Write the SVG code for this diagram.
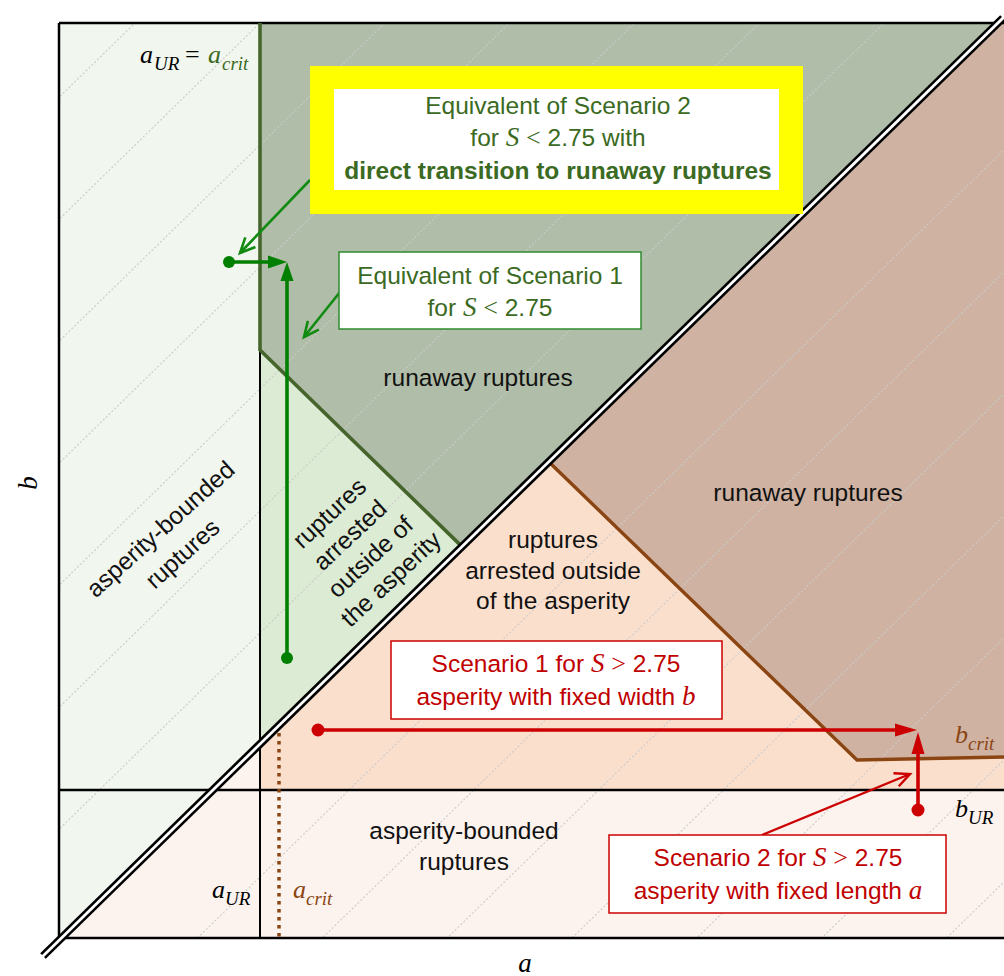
<svg xmlns="http://www.w3.org/2000/svg" width="1004" height="976" viewBox="0 0 1004 976">
<style>
.t{font-family:"Liberation Sans",Arial,sans-serif;font-size:24.5px;fill:#111}
.tc{text-anchor:middle}
.g{fill:#3b6a22}
.r{fill:#c00000}
.m{font-family:"Liberation Serif","Times New Roman",serif;font-style:italic;font-size:27px}
.op{font-family:"Liberation Serif","Times New Roman",serif;font-size:26px}
.mv{font-family:"Liberation Serif","Times New Roman",serif;font-style:italic;font-size:27px}
.sub{font-size:19px}
.hatch{stroke:#cbcbcb;stroke-width:1.1;stroke-dasharray:2 2;fill:none}
.frame{stroke:#000;stroke-width:2.5;fill:none}
.gline{stroke:#007f00;stroke-width:3.6;fill:none}
.gthin{stroke:#118a11;stroke-width:2.6;fill:none}
.rline{stroke:#cc0000;stroke-width:3.6;fill:none}
.rthin{stroke:#cc0000;stroke-width:2.4;fill:none}
</style>
<defs>
<clipPath id="fr"><rect x="59" y="23" width="945" height="915"/></clipPath>
<marker id="gh" markerUnits="userSpaceOnUse" markerWidth="22" markerHeight="16" refX="9" refY="6.5" orient="auto" overflow="visible"><path d="M0,0 L19,6.5 L0,13 z" fill="#007f00"/></marker>
<marker id="rh" markerUnits="userSpaceOnUse" markerWidth="24" markerHeight="16" refX="10" refY="6.5" orient="auto" overflow="visible"><path d="M0,0 L22,6.5 L0,13 z" fill="#cc0000"/></marker>
<marker id="go" markerUnits="userSpaceOnUse" markerWidth="18" markerHeight="16" refX="15" refY="7" orient="auto" overflow="visible"><path d="M0,0 L15,7 L0,14" fill="none" stroke="#118a11" stroke-width="2.6"/></marker>
<marker id="ro" markerUnits="userSpaceOnUse" markerWidth="18" markerHeight="16" refX="15" refY="7" orient="auto" overflow="visible"><path d="M0,0 L15,7 L0,14" fill="none" stroke="#cc0000" stroke-width="2.4"/></marker>
</defs>
<rect width="1004" height="976" fill="#fff"/>

<g id="regions">
<polygon id="left-strip" points="59,23 260,23 260,744 61,938 59,938" fill="#f1f6ee"/>
<polygon id="bottom-strip" points="61,938 260,744 260,790 1004,790 1004,938" fill="#fcf3ee"/>
<polygon id="peach" points="260,744 549,462 857,760 1004,757 1004,790 260,790" fill="#fbdfcd"/>
<polygon id="brown" points="549,462 998,23 1004,23 1004,757 857,760" fill="#cfb2a2"/>
<polygon id="darkgreen" points="260,23 998,23 462,546.6 260,350" fill="#b0bda8"/>
<polygon id="lightgreen" points="260,350 462,546.6 260,744" fill="#dcebd3"/>
</g>

<g id="hatching" clip-path="url(#fr)">
<path class="hatch" d="M0,155 L1010,-832 M0,277 L1010,-710 M0,399 L1010,-588 M0,521 L1010,-466 M0,643 L1010,-344 M0,765 L1010,-222 M0,887 L1010,-100 M0,1131 L1010,144 M0,1253 L1010,266 M0,1375 L1010,388 M0,1497 L1010,510 M0,1619 L1010,632 M0,1741 L1010,754 M0,1863 L1010,876"/>
</g>

<g id="boundaries">
<path d="M59,23 H1004 M59,23 V938 H1004" class="frame"/>
<line x1="59" y1="790" x2="1004" y2="790" stroke="#000" stroke-width="2.5"/>
<line x1="260" y1="350" x2="260" y2="938" stroke="#000" stroke-width="2"/>
<polyline points="260,23 260,350 462,546.6" fill="none" stroke="#46652c" stroke-width="3.6"/>
<polyline points="549,462 857,760 1004,757" fill="none" stroke="#8a4512" stroke-width="3.4"/>
<line x1="279" y1="733" x2="279" y2="938" stroke="#8a4512" stroke-width="3.5" stroke-dasharray="3.5 4.5"/>
<line x1="43" y1="956" x2="1003" y2="18" stroke="#000" stroke-width="8"/>
<line x1="40" y1="959" x2="1006" y2="15" stroke="#fff" stroke-width="2.8"/>
</g>

<g id="axis-labels">
<text class="mv" x="525" y="972" text-anchor="middle">a</text>
<text class="mv" transform="translate(37,483) rotate(-90)" text-anchor="middle">b</text>
<text class="mv" x="140" y="63" style="font-size:26px">a<tspan class="sub" x="154" y="70">UR</tspan><tspan style="font-style:normal" x="185" y="63">=</tspan><tspan fill="#3b6a22" x="208" y="63">a</tspan><tspan class="sub" fill="#3b6a22" x="222" y="70">crit</tspan></text>
<text class="mv" x="212" y="898" style="font-size:26px">a<tspan class="sub" x="225" y="905">UR</tspan></text>
<text class="mv" x="293" y="898" style="font-size:26px" fill="#8a4512">a<tspan class="sub" x="306" y="905">crit</tspan></text>
<text class="mv" x="955" y="743" style="font-size:26px" fill="#8a4512">b<tspan class="sub" x="968" y="750">crit</tspan></text>
<text class="mv" x="955" y="817" style="font-size:26px">b<tspan class="sub" x="968" y="824">UR</tspan></text>
</g>

<g id="region-labels">
<text class="t tc" x="478" y="386">runaway ruptures</text>
<text class="t tc" x="808" y="501">runaway ruptures</text>
<text class="t tc" x="553" y="548">ruptures</text>
<text class="t tc" x="553" y="579">arrested outside</text>
<text class="t tc" x="553" y="609">of the asperity</text>
<text class="t tc" x="464" y="839">asperity-bounded</text>
<text class="t tc" x="464" y="870">ruptures</text>
<g transform="translate(172,542) rotate(-42)">
<text class="t tc" x="0" y="-9">asperity-bounded</text>
<text class="t tc" x="0" y="24">ruptures</text>
</g>
<g transform="translate(361,547) rotate(-43)">
<text class="t tc" x="0" y="-38">ruptures</text>
<text class="t tc" x="0" y="-8">arrested</text>
<text class="t tc" x="0" y="22">outside of</text>
<text class="t tc" x="0" y="52">the asperity</text>
</g>
</g>

<g id="connectors">
<line class="gthin" x1="310" y1="180" x2="240" y2="253" marker-end="url(#go)"/>
<line class="gthin" x1="340" y1="292" x2="304" y2="337" marker-end="url(#go)"/>
<line class="gline" x1="229" y1="262" x2="277" y2="262" marker-end="url(#gh)"/>
<line class="gline" x1="287" y1="658" x2="287" y2="272" marker-end="url(#gh)"/>
<circle cx="229" cy="262" r="6" fill="#007f00"/>
<circle cx="287" cy="658" r="6" fill="#007f00"/>
<line class="rline" x1="318" y1="730" x2="905" y2="730" marker-end="url(#rh)"/>
<line class="rline" x1="918" y1="810" x2="918" y2="744" marker-end="url(#rh)"/>
<circle cx="318" cy="730" r="6.5" fill="#cc0000"/>
<circle cx="918" cy="810" r="6.5" fill="#cc0000"/>
<line class="rthin" x1="762" y1="835" x2="910" y2="774" marker-end="url(#ro)"/>
</g>

<g id="box-scenario2-eq">
<rect x="310" y="66" width="493" height="148" fill="#ffff00"/>
<rect x="334" y="89" width="445" height="101" fill="#fff"/>
<text class="t tc g" x="558" y="114">Equivalent of Scenario 2</text>
<text class="t tc g" x="558" y="146">for <tspan class="m">S</tspan> <tspan class="op">&lt;</tspan> 2.75 with</text>
<text class="t tc g" x="558" y="179" font-weight="bold">direct transition to runaway ruptures</text>
</g>

<g id="box-scenario1-eq">
<rect x="339" y="252" width="302" height="77" fill="#fff" stroke="#2e8b2e" stroke-width="1.5"/>
<text class="t tc g" x="490" y="284">Equivalent of Scenario 1</text>
<text class="t tc g" x="490" y="316">for <tspan class="m">S</tspan> <tspan class="op">&lt;</tspan> 2.75</text>
</g>

<g id="box-scenario1">
<rect x="391" y="641" width="331" height="78" fill="#fff" stroke="#cc0000" stroke-width="1.5"/>
<text class="t tc r" x="556" y="672">Scenario 1 for <tspan class="m">S</tspan> <tspan class="op">&gt;</tspan> 2.75</text>
<text class="t tc r" x="556" y="705">asperity with fixed width <tspan class="m">b</tspan></text>
</g>

<g id="box-scenario2">
<rect x="609" y="835" width="337" height="78" fill="#fff" stroke="#cc0000" stroke-width="1.5"/>
<text class="t tc r" x="778" y="866">Scenario 2 for <tspan class="m">S</tspan> <tspan class="op">&gt;</tspan> 2.75</text>
<text class="t tc r" x="778" y="899">asperity with fixed length <tspan class="m">a</tspan></text>
</g>
</svg>
